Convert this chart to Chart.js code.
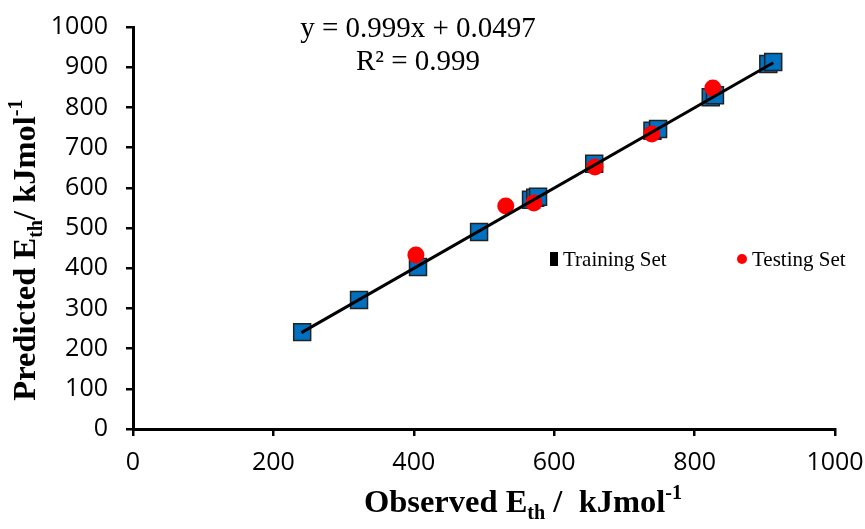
<!DOCTYPE html>
<html>
<head>
<meta charset="utf-8">
<script src="https://cdn.jsdelivr.net/npm/chart.js@4"></script>
<style>
  html, body { margin: 0; padding: 0; background: #fff; }
  #wrap { width: 865px; height: 529px; position: relative; }
</style>
</head>
<body>
<div id="wrap"><canvas id="chart"></canvas></div>
<script>
// observed vs predicted (kJ/mol)
const trainObserved = [241, 322, 406, 493, 567, 573, 577, 657, 740, 748, 823, 829, 905, 912];
const trainPredicted = [241, 321, 403, 490, 570, 575, 578, 660, 742, 746, 825, 830, 908, 913];
const testObserved = [403, 531, 571, 658, 739, 826];
const testPredicted = [433, 555, 562, 652, 734, 848];

// fitted line from the figure text
const slope = 0.999;
const intercept = 0.0497;
const fitRange = [240, 912];

const toPoints = (xs, ys) => xs.map((x, i) => ({ x: x, y: ys[i] }));
const fitPoints = fitRange.map((x) => ({ x: x, y: slope * x + intercept }));

// draws text with sub/superscript pieces: [text, "n" | "sub" | "sup"]
function drawRich(ctx, parts, size, family, weight) {
  let total = 0;
  parts.forEach((p) => {
    const s = p[1] === "n" ? size : size * 0.62;
    ctx.font = weight + " " + s + "px " + family;
    total += ctx.measureText(p[0]).width;
  });
  let x = -total / 2;
  parts.forEach((p) => {
    const s = p[1] === "n" ? size : size * 0.62;
    ctx.font = weight + " " + s + "px " + family;
    let dy = 0;
    if (p[1] === "sub") dy = size * 0.22;
    if (p[1] === "sup") dy = -size * 0.4;
    ctx.fillText(p[0], x, dy);
    x += ctx.measureText(p[0]).width;
  });
}

const annotations = {
  id: "annotations",
  afterDraw(chart) {
    const ctx = chart.ctx;
    const serif = "'Liberation Serif', 'Times New Roman', serif";
    ctx.save();
    ctx.fillStyle = "#000";
    ctx.textBaseline = "alphabetic";

    // equation
    ctx.textAlign = "center";
    ctx.font = "29px " + serif;
    ctx.fillText("y = 0.999x + 0.0497", 418, 37);
    ctx.fillText("R² = 0.999", 418, 70);

    // x axis title
    ctx.textAlign = "left";
    ctx.save();
    ctx.translate(523, 512);
    drawRich(ctx, [["Observed E", "n"], ["th", "sub"], [" /  kJmol", "n"], ["-1", "sup"]], 32.5, serif, "bold");
    ctx.restore();

    // y axis title
    ctx.save();
    ctx.translate(35, 250);
    ctx.rotate(-Math.PI / 2);
    drawRich(ctx, [["Predicted E", "n"], ["th", "sub"], ["/ kJmol", "n"], ["-1", "sup"]], 32.5, serif, "bold");
    ctx.restore();

    // legend
    ctx.fillStyle = "#000";
    ctx.fillRect(550, 252, 8, 14);
    ctx.fillStyle = "#ff0000";
    ctx.beginPath();
    ctx.arc(742, 259, 5, 0, Math.PI * 2);
    ctx.fill();
    ctx.fillStyle = "#000";
    ctx.textBaseline = "middle";
    ctx.font = "21px " + serif;
    ctx.fillText("Training Set", 563, 260);
    ctx.fillText("Testing Set", 752, 260);
    ctx.restore();
  }
};

const tickFont = { family: "'Open Sans', sans-serif", size: 25 };

new Chart(document.getElementById("chart"), {
  type: "scatter",
  data: {
    datasets: [
      {
        label: "Fit",
        type: "line",
        data: fitPoints,
        borderColor: "#000",
        borderWidth: 3,
        pointRadius: 0,
        fill: false,
        order: 0,
      },
      {
        label: "Testing Set",
        data: toPoints(testObserved, testPredicted),
        pointStyle: "circle",
        pointRadius: 8.5,
        backgroundColor: "#ff0000",
        borderWidth: 0,
        order: 1,
      },
      {
        label: "Training Set",
        data: toPoints(trainObserved, trainPredicted),
        pointStyle: "rect",
        pointRadius: 12,
        backgroundColor: "#0070c0",
        borderColor: "#222",
        borderWidth: 1.5,
        order: 2,
      },
    ],
  },
  options: {
    responsive: true,
    maintainAspectRatio: false,
    animation: false,
    layout: { padding: { left: 0, right: 30, top: 27, bottom: 0 } },
    plugins: {
      legend: { display: false },
      tooltip: { enabled: false },
    },
    scales: {
      x: {
        type: "linear",
        min: 0,
        max: 1000,
        ticks: {
          stepSize: 200,
          color: "#000",
          font: tickFont,
          padding: 12,
          maxRotation: 0,
          callback: (v) => String(v),
        },
        grid: { drawOnChartArea: false, tickLength: 7, color: "#000", lineWidth: 2.5 },
        border: { color: "#000", width: 3 },
        afterFit(scale) {
          scale.height = 100;
          scale.paddingLeft = 0;
          scale.paddingRight = 0;
        },
      },
      y: {
        min: 0,
        max: 1000,
        ticks: {
          stepSize: 100,
          color: "#000",
          font: tickFont,
          padding: 18,
          callback: (v) => String(v),
        },
        grid: { drawOnChartArea: false, tickLength: 7, color: "#000", lineWidth: 2.5 },
        border: { color: "#000", width: 3 },
        afterFit(scale) {
          scale.width = 133;
          scale.paddingTop = 0;
          scale.paddingBottom = 0;
        },
      },
    },
  },
  plugins: [annotations],
});
</script>
</body>
</html>
